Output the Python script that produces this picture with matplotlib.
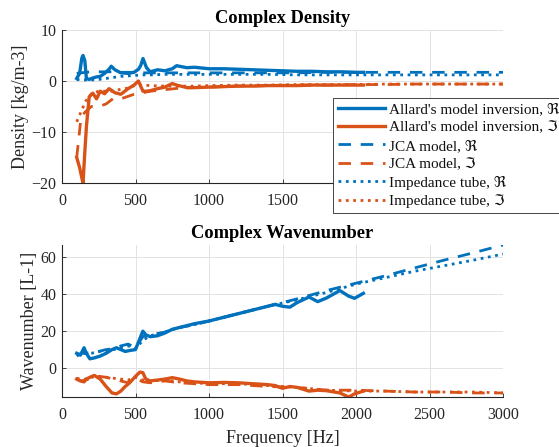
import matplotlib
matplotlib.use("Agg")
import matplotlib.pyplot as plt

plt.rcParams['font.family'] = ['Liberation Serif', 'DejaVu Sans']

BLUE = '#0072BD'
ORANGE = '#D95319'

# ---------------- data ----------------
# Allard's model inversion, density panel
f_rho_allard = [100, 120, 135, 143, 155, 166, 185, 210, 235, 260, 290, 320, 335, 360, 400,
                450, 490, 520, 535, 551, 575, 600, 650, 700, 750, 780, 850, 900, 1000,
                1100, 1200, 1300, 1400, 1500, 1600, 1700, 1800, 1900, 2000, 2050]
rho_allard_re = [0.5, 1.5, 4.5, 5.0, 4.0, 0.5, 0.3, 0.6, 0.8, 0.9, 1.5, 2.3, 2.9, 2.2, 1.6,
                 1.5, 1.7, 2.3, 3.0, 4.4, 2.6, 1.8, 2.2, 2.0, 2.4, 3.0, 2.6, 2.7, 2.4,
                 2.4, 2.3, 2.2, 2.1, 2.0, 1.9, 1.9, 1.8, 1.8, 1.7, 1.7]
rho_allard_im = [-15.0, -17.0, -19.0, -20.0, -14.0, -9.0, -3.1, -2.4, -3.5, -2.0, -2.5, -1.5,
                 -1.8, -2.3, -2.6, -1.5, -0.8, 0.0, -1.0, -2.0, -2.0, -1.9, -1.5, -1.2,
                 -0.5, -0.8, -1.3, -1.3, -1.2, -1.1, -1.0, -1.0, -0.9, -0.9, -0.9, -0.8,
                 -0.8, -0.8, -0.8, -0.8]

# JCA model and impedance tube frequencies
f_model = [100, 130, 160, 200, 250, 300, 350, 400, 450, 500, 550, 600, 700, 800, 900, 1000,
           1200, 1400, 1600, 1800, 2000, 2200, 2400, 2600, 2800, 3000]
rho_jca_re = [1.5, 1.6, 1.7, 1.8, 1.8, 1.8, 1.8, 1.7, 1.7, 1.7, 1.6, 1.6, 1.6, 1.6, 1.6, 1.6,
              1.6, 1.6, 1.6, 1.7, 1.7, 1.7, 1.7, 1.7, 1.7, 1.7]
rho_jca_im = [-15.0, -7.0, -6.0, -5.0, -5.0, -4.5, -3.4, -3.5, -3.0, -2.5, -2.3, -2.0, -1.7,
              -1.4, -1.3, -1.2, -1.0, -0.9, -0.8, -0.8, -0.7, -0.7, -0.6, -0.6, -0.6, -0.6]
rho_tube_re = [0.3, 0.2, 0.2, 0.2, 0.3, 0.5, 0.7, 0.9, 1.0, 1.1, 1.2, 1.2, 1.3, 1.3, 1.3, 1.3,
               1.3, 1.3, 1.2, 1.2, 1.2, 1.2, 1.2, 1.2, 1.2, 1.2]
rho_tube_im = [-8.0, -6.0, -4.0, -2.5, -2.0, -2.0, -2.0, -1.6, -1.4, -0.8, -0.8, -0.9, -1.0,
               -1.0, -1.0, -0.9, -0.8, -0.8, -0.7, -0.7, -0.7, -0.6, -0.6, -0.6, -0.6, -0.6]

# Allard's model inversion, wavenumber panel
f_k_allard = [100, 125, 150, 165, 190, 220, 260, 300, 340, 370, 400, 430, 460, 500, 530, 550,
              570, 600, 650, 700, 750, 800, 850, 900, 1000, 1100, 1200, 1300, 1400, 1450,
              1500, 1550, 1600, 1680, 1740, 1800, 1890, 1950, 1990, 2050]
k_allard_re = [8, 7, 11, 8, 5, 5.5, 6.5, 8, 10, 11, 10, 9, 9.5, 10, 16, 20, 18, 17, 17.5, 19,
               21, 22, 23, 24, 25.5, 27.5, 29.5, 31.5, 33.5, 34.5, 33.5, 33, 35.5, 38.5, 36,
               38, 42, 39, 37.8, 40.5]
k_allard_im = [-6, -7, -7.5, -6, -5, -4, -6, -10, -13.5, -14, -12.5, -10, -8, -4.5, -2.2,
               -2.5, -6, -7, -6.5, -6, -5.2, -6, -7, -7.5, -8, -7.8, -8, -8.5, -9, -9.5, -11,
               -10, -10.5, -12.5, -12, -12.3, -13.5, -15.7, -14, -12.5]

k_jca_re = [6.5, 8, 8, 8.5, 9, 10, 10.5, 12, 13, 11, 17, 18, 19.5, 22, 23.5, 25.5, 29.5, 33.5,
            37.5, 42, 46, 50, 54.3, 58.5, 62.5, 66.7]
k_jca_im = [-6, -7, -6.5, -5.5, -4.5, -5, -6, -7, -8, -5.5, -7.5, -8, -7, -8, -8.5, -9, -9,
            -10, -10.5, -12, -12, -12.5, -13, -13, -13.5, -13.5]
k_tube_re = [7, 7.5, 8, 8, 9, 9.5, 10, 11, 12, 10.5, 15, 17.5, 19.5, 22, 23.5, 25.5, 29.5,
             33.5, 37, 41, 45.5, 49, 52.5, 55.5, 58.5, 61.8]
k_tube_im = [-5.5, -6, -6, -5, -4.5, -5, -5.5, -6, -6.5, -5, -6.5, -7, -6.5, -7.5, -8, -8.5,
             -8.5, -9.5, -10.5, -12, -12.5, -12.5, -13, -13, -13, -13.5]

x_ticks = [0, 500, 1000, 1500, 2000, 2500, 3000]
rho_ticks = [-20, -10, 0, 10]
k_ticks = [0, 20, 40, 60]

labels = ["Allard's model inversion, \u211C", "Allard's model inversion, \u2111",
          "JCA model, \u211C", "JCA model, \u2111",
          "Impedance tube, \u211C", "Impedance tube, \u2111"]

# ---------------- figure ----------------
W, H = 559, 447
fig = plt.figure(figsize=(W / 100, H / 100), dpi=100)
ax1 = fig.add_axes([62 / W, 1 - 183 / H, 441 / W, 153 / H])
ax2 = fig.add_axes([62 / W, 1 - 397 / H, 441 / W, 152 / H])

TXT = '#262626'
FS = 11.5

def style(ax):
    ax.set_xlim(0, 3000)
    ax.set_xticks(x_ticks)
    ax.grid(True, color='#e3e3e3', linewidth=0.7)
    ax.set_axisbelow(True)
    for s in ['top', 'right']:
        ax.spines[s].set_visible(False)
    for s in ['left', 'bottom']:
        ax.spines[s].set_color(TXT)
        ax.spines[s].set_linewidth(0.8)
    ax.tick_params(direction='in', length=3, width=0.6, colors=TXT, labelsize=FS,
                   labelcolor=TXT)
    ax.tick_params(axis='x', pad=7)
    ax.tick_params(axis='y', pad=4)

lw_s, lw_d = 2.4, 2.0
h = []
h += ax1.plot(f_rho_allard, rho_allard_re, '-', color=BLUE, lw=lw_s)
h += ax1.plot(f_rho_allard, rho_allard_im, '-', color=ORANGE, lw=lw_s)
h += ax1.plot(f_model, rho_jca_re, '--', color=BLUE, lw=lw_d, dashes=(4.5, 3.5))
h += ax1.plot(f_model, rho_jca_im, '--', color=ORANGE, lw=lw_d, dashes=(4.5, 3.5))
h += ax1.plot(f_model, rho_tube_re, ':', color=BLUE, lw=lw_d)
h += ax1.plot(f_model, rho_tube_im, ':', color=ORANGE, lw=lw_d)
style(ax1)
ax1.set_ylim(-20, 10)
ax1.set_yticks(rho_ticks)
ax1.set_ylabel('Density [kg/m-3]', fontsize=13, color=TXT, labelpad=2)
ax1.set_title('Complex Density', fontsize=13.3, fontweight='bold', pad=5)
# labels hidden behind the legend in the reference
for lab in ax1.get_xticklabels():
    if lab.get_text() in ('2000', '2500', '3000'):
        lab.set_visible(False)

ax2.plot(f_k_allard, k_allard_re, '-', color=BLUE, lw=lw_s)
ax2.plot(f_k_allard, k_allard_im, '-', color=ORANGE, lw=lw_s)
ax2.plot(f_model, k_jca_re, '--', color=BLUE, lw=lw_d, dashes=(4.5, 3.5))
ax2.plot(f_model, k_jca_im, '--', color=ORANGE, lw=lw_d, dashes=(4.5, 3.5))
ax2.plot(f_model, k_tube_re, ':', color=BLUE, lw=lw_d)
ax2.plot(f_model, k_tube_im, ':', color=ORANGE, lw=lw_d)
style(ax2)
ax2.set_ylim(-15.7, 66.7)
ax2.set_yticks(k_ticks)
ax2.set_ylabel('Wavenumber [L-1]', fontsize=13, color=TXT, labelpad=2)
ax2.set_xlabel('Frequency [Hz]', fontsize=13, color=TXT, labelpad=5)
ax2.set_title('Complex Wavenumber', fontsize=13.3, fontweight='bold', pad=5)

leg = ax1.legend(h, labels, loc='upper left', bbox_to_anchor=(333 / W, 1 - 98 / H),
                 bbox_transform=fig.transFigure, fontsize=11, frameon=True,
                 fancybox=False, edgecolor=TXT, framealpha=1, handlelength=3.1,
                 handletextpad=0.25, labelspacing=0.3, borderpad=0.3, borderaxespad=0)
leg.get_frame().set_linewidth(0.6)
for t in leg.get_texts():
    t.set_color('#111111')

fig.savefig('out.png', dpi=100)
